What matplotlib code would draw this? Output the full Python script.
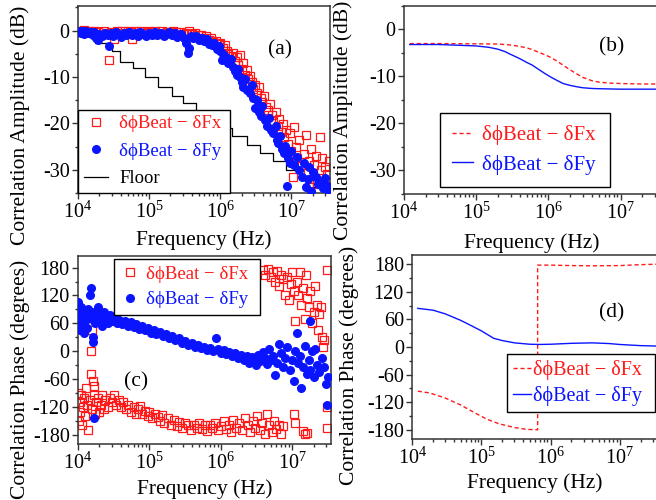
import matplotlib
matplotlib.use('agg')
from matplotlib import pyplot as plt
from matplotlib.ticker import MultipleLocator, LogLocator

plt.rcParams['font.family'] = ['Liberation Serif', 'DejaVu Serif']
plt.rcParams['mathtext.fontset'] = 'custom'
plt.rcParams['mathtext.rm'] = 'Liberation Serif'
plt.rcParams['axes.unicode_minus'] = False

LABEL_X = 'δϕBeat \u2212 δFx'
LABEL_Y = 'δϕBeat \u2212 δFy'
RED = '#ff1a1a'
BLUE = '#0a14ff'

# ---- panel (a): measured correlation amplitude (dB)
a_fx_f = [1.0e4, 1.1e4, 1.2e4, 1.3e4, 1.45e4, 1.6e4, 1.75e4, 1.9e4, 2.1e4, 2.3e4, 2.5e4, 2.7e4,
          2.9e4, 3.2e4, 3.5e4, 3.8e4, 4.2e4, 4.6e4, 5.0e4, 5.5e4, 5.8e4, 6.3e4, 7.0e4, 7.7e4,
          8.5e4, 9.3e4, 1.0e5, 1.1e5, 1.2e5, 1.35e5, 1.5e5, 1.65e5, 1.8e5, 2.0e5, 2.2e5, 2.4e5,
          2.7e5, 3.0e5, 3.3e5, 3.6e5, 4.0e5, 4.4e5, 4.8e5, 5.3e5, 5.8e5, 6.3e5, 7.0e5, 7.5e5,
          8.0e5, 8.7e5, 9.5e5, 1.0e6, 1.1e6, 1.15e6, 1.25e6, 1.3e6, 1.4e6, 1.5e6, 1.6e6, 1.7e6,
          1.8e6, 1.9e6, 2.0e6, 2.1e6, 2.2e6, 2.35e6, 2.5e6, 2.6e6, 2.8e6, 2.9e6, 3.1e6, 3.3e6,
          3.5e6, 3.7e6, 3.9e6, 4.1e6, 4.4e6, 4.7e6, 5.0e6, 5.3e6, 5.6e6, 6.0e6, 6.4e6, 6.8e6,
          7.2e6, 7.6e6, 8.0e6, 8.5e6, 9.0e6, 9.5e6, 1.0e7, 1.05e7, 1.1e7, 1.15e7, 1.2e7, 1.3e7,
          1.4e7, 1.5e7, 1.6e7, 1.7e7, 1.8e7, 1.9e7, 2.0e7, 2.1e7, 2.2e7, 2.3e7, 2.5e7, 2.6e7,
          2.7e7, 2.8e7, 3.0e7, 3.2e7, 3.3e7, 3.4e7]
a_fx_db = [0.0, -0.2, 0.1, -0.3, 0.0, -0.5, -0.1, -0.4, -1.0, -0.2, -0.6, -6.4,
           -0.3, -1.8, -0.1, -0.5, -0.2, -0.7, 0.0, -0.4, -1.9, -0.2, -0.6, -0.1,
           -0.5, -0.3, 0.0, -0.4, -0.2, -0.8, -0.1, -0.5, -0.3, -0.6, -0.2, -0.4,
           -0.3, -0.7, -0.5, -0.2, -0.8, -0.6, -1.0, -0.9, -1.5, -1.2, -2.0, -1.6,
           -2.5, -2.2, -3.0, -2.6, -3.8, -3.2, -4.5, -5.0, -5.5, -4.8, -6.5, -5.6,
           -7.5, -5.2, -8.3, -7.0, -9.5, -8.5, -10.5, -9.8, -11.0, -12.5, -11.8, -13.5,
           -12.2, -14.6, -15.5, -14.0, -16.5, -17.1, -15.8, -18.2, -19.5, -17.5, -20.5, -19.0,
           -21.8, -20.2, -23.0, -21.5, -24.5, -22.0, -26.0, -31.5, -20.7, -25.0, -27.5, -23.5,
           -29.0, -26.5, -22.5, -30.5, -28.0, -25.5, -32.0, -29.0, -27.0, -33.0, -23.0, -30.0,
           -27.5, -32.5, -29.5, -31.0, -33.5, -28.0]

a_fy_f = [1.0e4, 1.05e4, 1.1e4, 1.15e4, 1.2e4, 1.3e4, 1.4e4, 1.5e4, 1.6e4, 1.7e4, 1.8e4, 1.9e4,
          2.0e4, 2.2e4, 2.4e4, 2.6e4, 2.7e4, 2.9e4, 3.1e4, 3.4e4, 3.7e4, 4.0e4, 4.4e4, 4.8e4,
          5.3e4, 5.8e4, 6.3e4, 6.9e4, 7.5e4, 8.2e4, 9.0e4, 1.0e5, 1.1e5, 1.2e5, 1.3e5, 1.45e5,
          1.6e5, 1.75e5, 1.9e5, 2.1e5, 2.3e5, 2.5e5, 2.8e5, 3.1e5, 3.3e5, 3.5e5, 3.6e5, 3.9e5,
          4.2e5, 4.6e5, 5.0e5, 5.5e5, 6.0e5, 6.5e5, 7.0e5, 7.6e5, 8.2e5, 8.9e5, 9.5e5, 1.0e6,
          1.05e6, 1.1e6, 1.2e6, 1.3e6, 1.4e6, 1.5e6, 1.6e6, 1.7e6, 1.8e6, 1.9e6, 2.0e6, 2.1e6,
          2.2e6, 2.4e6, 2.6e6, 2.8e6, 2.9e6, 3.1e6, 3.3e6, 3.5e6, 3.7e6, 3.9e6, 4.2e6, 4.5e6,
          4.8e6, 5.2e6, 5.6e6, 6.0e6, 6.3e6, 6.6e6, 7.0e6, 7.4e6, 7.8e6, 8.2e6, 8.6e6, 9.0e6,
          9.5e6, 1.0e7, 1.1e7, 1.2e7, 1.3e7, 1.4e7, 1.5e7, 1.6e7, 1.7e7, 1.8e7, 1.9e7, 2.0e7,
          2.2e7, 2.4e7, 2.6e7, 2.8e7, 3.0e7, 3.2e7, 3.4e7]
a_fy_db = [-0.3, 0.0, -0.5, -0.1, -0.8, -0.2, -0.6, -0.3, -1.0, -0.4, -1.5, -2.0,
           -0.7, -1.2, -0.5, -0.9, -3.3, -0.6, -1.1, -0.4, -0.8, -1.3, -0.5, -0.9,
           -0.3, -1.0, -0.6, -1.2, -0.4, -0.8, -1.1, -0.5, -0.9, -0.3, -1.0, -0.6,
           -1.2, -0.7, -0.4, -1.0, -0.6, -1.3, -0.8, -1.5, -2.7, -4.9, -3.8, -1.2,
           -1.6, -1.1, -2.0, -1.5, -2.3, -1.8, -2.8, -3.2, -2.6, -3.9, -3.4, -4.5,
           -6.3, -5.0, -5.8, -7.0, -6.2, -7.8, -8.8, -9.5, -8.2, -9.9, -11.0, -12.1,
           -10.5, -12.8, -13.5, -11.8, -14.5, -16.7, -15.0, -17.5, -18.5, -16.2, -19.2, -20.5,
           -18.8, -21.5, -22.1, -20.5, -23.5, -24.3, -22.8, -25.5, -26.4, -24.8, -33.4, -27.5,
           -28.6, -26.0, -29.0, -27.2, -30.0, -31.5, -28.5, -33.6, -32.0, -29.3, -34.5, -30.5,
           -31.5, -33.0, -32.9, -34.0, -31.8, -33.5, -34.5]

floor_f = [1.0e4, 1.71e4, 3.0e4, 3.92e4, 6.0e4, 8.8e4, 1.35e5, 2.08e5, 3.0e5, 4.5e5,
           6.6e5, 9.8e5, 1.45e6, 2.35e6, 3.6e6, 5.5e6, 8.5e6, 1.32e7, 2.0e7, 3.5e7]
floor_db = [0.0, -2.6, -4.5, -6.7, -8.1, -10.0, -12.2, -14.2, -15.6, -17.4,
            -19.2, -21.0, -22.8, -24.6, -26.4, -28.2, -30.0, -31.8, -33.6, -33.6]

# ---- panel (b): model amplitude (dB)
b_f = [1.2e4, 3e4, 1e5, 1.5e5, 2e5, 2.5e5, 3e5, 4e5, 5e5, 6e5, 7.5e5, 9e5, 1.1e6, 1.3e6,
       1.6e6, 2e6, 2.5e6, 3e6, 4e6, 5e6, 7e6, 1e7, 2e7, 3.5e7]
b_fx_db = [-3.0, -3.0, -3.05, -3.08, -3.1, -3.2, -3.3, -3.6, -3.9, -4.3, -4.9, -5.4, -6.0, -6.7,
           -7.6, -8.6, -9.5, -10.2, -10.9, -11.2, -11.4, -11.5, -11.6, -11.6]
b_fy_db = [-3.2, -3.2, -3.5, -3.8, -4.2, -4.7, -5.3, -6.2, -7.0, -7.6, -8.6, -9.4, -10.2, -10.8,
           -11.5, -11.9, -12.2, -12.4, -12.55, -12.6, -12.65, -12.7, -12.7, -12.7]

# ---- panel (c): measured correlation phase (degrees)
c_fx_f = [1.0e4, 1.02e4, 1.05e4, 1.08e4, 1.1e4, 1.15e4, 1.18e4, 1.2e4, 1.25e4, 1.3e4, 1.35e4,
          1.4e4, 1.45e4, 1.5e4, 1.5e4, 1.55e4, 1.55e4, 1.6e4, 1.65e4, 1.7e4, 1.75e4, 1.8e4,
          1.9e4, 2.0e4, 2.1e4, 2.2e4, 2.3e4, 2.4e4, 2.6e4, 2.8e4, 3.0e4, 3.2e4, 3.4e4, 3.7e4,
          4.0e4, 4.3e4, 4.7e4, 5.0e4, 5.5e4, 6.0e4, 6.5e4, 7.0e4, 7.5e4, 8.0e4, 8.7e4, 9.5e4,
          1.0e5, 1.1e5, 1.2e5, 1.3e5, 1.4e5, 1.5e5, 1.6e5, 1.8e5, 2.0e5, 2.2e5, 2.4e5, 2.6e5,
          2.9e5, 3.2e5, 3.5e5, 3.8e5, 4.2e5, 4.6e5, 5.0e5, 5.5e5, 6.0e5, 6.5e5, 7.0e5, 7.6e5,
          8.2e5, 9.0e5, 1.0e6, 1.1e6, 1.2e6, 1.3e6, 1.4e6, 1.5e6, 1.65e6, 1.8e6, 2.0e6, 2.2e6,
          2.4e6, 2.6e6, 2.8e6, 3.0e6, 3.2e6, 3.5e6, 3.8e6, 4.1e6, 4.4e6, 4.8e6, 5.2e6, 5.6e6,
          6.0e6, 6.5e6, 7.0e6, 7.5e6, 1.05e7, 1.1e7, 1.4e7, 1.5e7, 1.6e7,
          3.9e6, 4.2e6, 4.6e6, 5.0e6, 5.4e6, 5.8e6, 6.2e6, 6.6e6, 7.0e6, 7.5e6, 8.0e6, 8.5e6,
          9.0e6, 9.5e6, 1.0e7, 1.05e7, 1.1e7, 1.15e7, 1.2e7, 1.3e7, 1.35e7, 1.4e7, 1.5e7,
          1.55e7, 1.6e7, 1.7e7, 1.8e7, 1.9e7, 2.0e7, 2.1e7, 2.2e7, 2.3e7, 2.4e7, 2.5e7, 2.6e7,
          2.7e7, 2.8e7, 3.1e7, 3.05e7, 3.1e7]
c_fx_deg = [-90, -150, -110, -130, -95, -160, -120, -100, -140, -80, -115,
            -170, -105, -50, 0, -125, 45, -65, -95, -75, -135, -110,
            -100, -130, -115, -95, -125, -105, -120, -100, -110, -95, -115, -105,
            -120, -110, -125, -115, -130, -120, -135, -125, -118, -135, -128, -140,
            -130, -145, -135, -142, -150, -138, -155, -145, -158, -148, -162, -152,
            -165, -155, -160, -170, -158, -165, -155, -168, -160, -172, -158, -165,
            -155, -170, -162, -150, -168, -158, -175, -148, -165, -155, -170, -145,
            -160, -175, -150, -165, -140, -170, -155, -178, -135, -160, -175, -150,
            -168, -158, -178, -162, -135, -155, -172, -178, -176,
            175, 165, 178, 160, 170, 150, 172, 140, 165, 155, 120, 160,
            110, 145, 170, 130, 65, 150, 120, 170, 100, 135, 70,
            165, 115, 95, 130, 60, 85, 140, 100, 45, 80, 95, 30,
            10, 25, 175, -120, -166]

c_fy_f = [1.0e4, 1.02e4, 1.04e4, 1.06e4, 1.08e4, 1.1e4, 1.12e4, 1.15e4, 1.18e4, 1.2e4, 1.25e4,
          1.3e4, 1.35e4, 1.4e4, 1.45e4, 1.5e4, 1.55e4, 1.6e4, 1.62e4, 1.65e4, 1.7e4, 1.75e4,
          1.8e4, 1.9e4, 2.0e4, 2.1e4, 2.2e4, 2.3e4, 2.4e4, 2.6e4, 2.8e4, 3.0e4, 3.2e4, 3.5e4,
          3.8e4, 4.1e4, 4.5e4, 5.0e4, 5.5e4, 6.0e4, 6.5e4, 7.2e4, 8.0e4, 8.8e4, 9.6e4, 1.05e5,
          1.15e5, 1.25e5, 1.4e5, 1.55e5, 1.7e5, 1.9e5, 2.1e5, 2.3e5, 2.6e5, 2.9e5, 3.2e5, 3.5e5,
          3.9e5, 4.3e5, 4.8e5, 5.3e5, 5.8e5, 6.4e5, 7.0e5, 7.7e5, 8.5e5, 9.0e5, 1.0e6, 1.1e6,
          1.2e6, 1.3e6, 1.45e6, 1.6e6, 1.75e6, 1.9e6, 2.1e6, 2.3e6, 2.5e6, 2.7e6, 2.9e6, 3.1e6,
          3.3e6, 3.6e6, 3.9e6, 4.2e6, 4.5e6, 4.8e6, 5.1e6, 5.4e6, 5.8e6, 6.2e6, 6.6e6, 7.0e6,
          7.5e6, 8.0e6, 8.6e6, 9.2e6, 1.0e7, 1.05e7, 1.1e7, 1.15e7, 1.2e7, 1.3e7, 1.35e7,
          1.4e7, 1.5e7, 1.6e7, 1.7e7, 1.75e7, 1.8e7, 1.9e7, 2.0e7, 2.1e7, 2.2e7, 2.4e7, 2.6e7,
          2.8e7, 3.0e7, 3.1e7, 3.2e7]
c_fy_deg = [105, 60, 85, 45, 75, 95, 55, 70, 88, 40, 65,
            80, 50, 90, 120, 135, 70, 30, 20, -145, 85, 60,
            75, 95, 65, 80, 55, 85, 70, 60, 78, 65, 72, 60,
            68, 58, 65, 55, 62, 52, 58, 48, 55, 45, 50, 40,
            46, 36, 42, 32, 38, 28, 33, 24, 28, 18, 22, 14,
            18, 10, 14, 6, 10, 2, 7, 0, 28, 4, -3, 2,
            -6, -1, -10, -4, -14, -8, -18, -10, -25, -12, -20, -30,
            -8, -22, -2, -15, -28, 5, -18, -10, -52, -25, 15, -5,
            -35, -15, 8, -40, -20, -65, 0, 40, -25, -10, -80,
            -35, 12, -50, -20, 65, -40, 0, -55, 5, -30, -45, -15,
            -35, -70, -115, -55]

# ---- panel (d): model phase (degrees)
d_fx_f = [1.2e4, 1.8e4, 3e4, 5e4, 8e4, 1.2e5, 1.8e5, 3e5, 4.5e5, 6.5e5, 6.5e5, 1e6, 2e6,
          4e6, 1e7, 2e7, 3.5e7]
d_fx_deg = [-96, -100, -111, -126, -143, -157, -167, -175, -179, -180, 178, 178, 177,
            176.5, 177, 179, 180]
d_fy_f = [1.2e4, 2e4, 3e4, 5e4, 7e4, 1e5, 1.5e5, 2e5, 3e5, 5e5, 7e5, 1e6, 2e6, 4e6, 7e6,
          1e7, 2e7, 3.5e7]
d_fy_deg = [84, 80, 72, 58, 47, 35, 19, 14, 9, 6, 5.5, 6, 8, 9, 7.5, 5.5, 3, 2]


def style_axes(ax, ylim, ymajor, yminor, ylabel, label_x, label_y, xlabel_y):
    ax.set_xscale('log')
    ax.set_xlim(1e4, 3.5e7)
    ax.set_ylim(*ylim)
    ax.yaxis.set_major_locator(MultipleLocator(ymajor))
    ax.yaxis.set_minor_locator(MultipleLocator(yminor))
    ax.xaxis.set_major_locator(LogLocator(base=10))
    ax.xaxis.set_minor_locator(LogLocator(base=10, subs=range(2, 10)))
    ax.tick_params(which='both', direction='out', top=False, right=False, labelsize=14.5,
                   color='#333333', width=1)
    ax.tick_params(which='major', length=4, pad=2)
    ax.tick_params(which='minor', length=2.5)
    for spine in ax.spines.values():
        spine.set_color('#333333')
        spine.set_linewidth(1.1)
    ax.set_xlabel('Frequency (Hz)', fontsize=15.5)
    ax.set_ylabel(ylabel, fontsize=15.5)
    ax.xaxis.set_label_coords(0.5, xlabel_y)
    ax.yaxis.set_label_coords(label_x, label_y)


def style_legend(leg, colors):
    leg.get_frame().set_linewidth(1.0)
    for text, color in zip(leg.get_texts(), colors):
        text.set_color(color)


def line_legend(ax, left, top, width, size, spacing, pad, hlen=1.0, hpad=0.4):
    leg = ax.legend(loc='upper left', bbox_to_anchor=(left, top, width, 0), mode='expand',
                    fontsize=size, fancybox=False, framealpha=1, edgecolor='black',
                    borderaxespad=0, handlelength=hlen, handletextpad=hpad, labelspacing=spacing,
                    borderpad=pad)
    style_legend(leg, [RED, BLUE])


def main():
    fig = plt.figure(figsize=(6.56, 5.0), dpi=100)
    ax_a = fig.add_axes([0.1189, 0.614, 0.3841, 0.375])
    ax_b = fig.add_axes([0.6159, 0.612, 0.390, 0.377])
    ax_c = fig.add_axes([0.1189, 0.112, 0.3857, 0.376])
    ax_d = fig.add_axes([0.6285, 0.122, 0.3735, 0.368])

    # (a)
    floor, = ax_a.plot(floor_f, floor_db, color='black', lw=0.9, drawstyle='steps-post', zorder=1)
    sq, = ax_a.plot(a_fx_f, a_fx_db, 's', ms=5.5, mfc='none', mec=RED, mew=0.9, zorder=2)
    dot, = ax_a.plot(a_fy_f, a_fy_db, 'o', ms=5.5, mfc=BLUE, mec=BLUE, zorder=3)
    style_axes(ax_a, (-35, 5.4), 10, 5, 'Correlation Amplitude (dB)', -0.19, 0.363, -0.2)
    leg = ax_a.legend([sq, dot, floor], [LABEL_X, LABEL_Y, 'Floor'], loc='lower left',
                      bbox_to_anchor=(0.0, 0.0, 0.603, 0.47), mode='expand', fontsize=13.5,
                      fancybox=False, framealpha=1, edgecolor='black', borderaxespad=0,
                      handlelength=1.3, handletextpad=0.6, labelspacing=0.55, borderpad=0.3)
    style_legend(leg, [RED, BLUE, 'black'])
    ax_a.text(0.80, 0.763, '(a)', transform=ax_a.transAxes, fontsize=15.5, ha='center', va='center')

    # (b)
    ax_b.plot(b_f, b_fx_db, color=RED, lw=1.0, ls=(0, (3, 2)), label=LABEL_X)
    ax_b.plot(b_f, b_fy_db, color=BLUE, lw=1.0, label=LABEL_Y)
    style_axes(ax_b, (-35, 5.1), 10, 5, 'Correlation Amplitude (dB)', -0.198, 0.392, -0.21)
    line_legend(ax_b, 0.14, 0.431, 0.665, 15, 0.45, 0.6)
    ax_b.text(0.81, 0.78, '(b)', transform=ax_b.transAxes, fontsize=15.5, ha='center', va='center')

    # (c)
    ax_c.plot(c_fx_f, c_fx_deg, 's', ms=5.5, mfc='none', mec=RED, mew=0.9, color=RED,
              label=LABEL_X, zorder=2)
    ax_c.plot(c_fy_f, c_fy_deg, 'o', ms=5.5, mfc=BLUE, mec=BLUE, color=BLUE, label=LABEL_Y, zorder=3)
    style_axes(ax_c, (-200, 205), 60, 30, 'Correlation Phase (degrees)', -0.19, 0.346, -0.19)
    line_legend(ax_c, 0.141, 0.984, 0.577, 13.5, 0.45, 0.35)
    ax_c.text(0.23, 0.331, '(c)', transform=ax_c.transAxes, fontsize=15.5, ha='center', va='center')

    # (d)
    ax_d.plot(d_fx_f, d_fx_deg, color=RED, lw=1.0, ls=(0, (3, 2)), label=LABEL_X)
    ax_d.plot(d_fy_f, d_fy_deg, color=BLUE, lw=1.0, label=LABEL_Y)
    style_axes(ax_d, (-200, 200), 60, 30, 'Correlation Phase (degrees)', -0.218, 0.40, -0.185)
    line_legend(ax_d, 0.385, 0.46, 0.605, 14.5, 0.3, 0.3, hlen=0.9, hpad=0.1)
    ax_d.text(0.814, 0.683, '(d)', transform=ax_d.transAxes, fontsize=15.5, ha='center', va='center')

    fig.savefig('out.png', dpi=100)


if __name__ == '__main__':
    main()
